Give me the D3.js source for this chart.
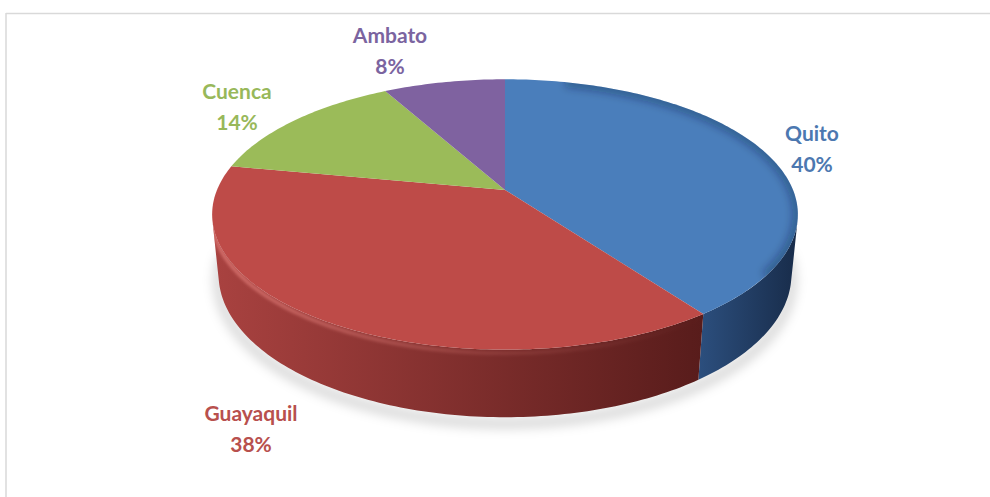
<!DOCTYPE html>
<html>
<head>
<meta charset="utf-8">
<script src="https://cdn.jsdelivr.net/npm/d3@7"></script>
<style>
  html, body { margin: 0; padding: 0; background: #fff; }
  svg { display: block; }
  text { font-family: Lato, "Open Sans", sans-serif; font-weight: 700; }
</style>
</head>
<body>
<svg id="chart" width="990" height="497"></svg>
<script>
// City shares (percent)
const cities = ["Quito", "Guayaquil", "Cuenca", "Ambato"];
const shares = [40, 38, 14, 8];

// Office palette: top face, wall and label colours
const topColors   = ["#4a7ebb", "#be4b48", "#9bbb59", "#7f62a0"];
const wallLight   = ["#2c4f7e", "#a94240", "#7d9843", "#5f4a7c"];
const wallDark    = ["#182c4a", "#581c1b", "#4d5e27", "#3b2d4e"];
const labelColors = ["#4c78b0", "#b8504d", "#98b85a", "#7b64a0"];

// Where each label sits (centre x, baseline of the first line)
const labelPos = {
  Quito:     [812, 141],
  Guayaquil: [251, 421],
  Cuenca:    [237, 99],
  Ambato:    [390, 43]
};

const svg = d3.select("#chart");
const defs = svg.append("defs");

// Chart area border
svg.append("line").attr("x1", 6).attr("x2", 990).attr("y1", 13.5).attr("y2", 13.5)
  .attr("stroke", "#d9d9d9").attr("stroke-width", 1.5);
svg.append("line").attr("x1", 6).attr("x2", 6).attr("y1", 13).attr("y2", 497)
  .attr("stroke", "#d9d9d9").attr("stroke-width", 1.5);

// ---- perspective projection of a tilted disc ----
const cx = 505, cy = 190;     // screen position of the disc centre
const focal = 1420;           // focal length (px per unit radius at unit depth)
const dist = 4.93;            // camera distance (in radii)
const tilt = 27 * Math.PI / 180;
const sinT = Math.sin(tilt), cosT = Math.cos(tilt);
const thick = 0.235;          // disc thickness (in radii)

// theta: clockwise from the back (screen top); y: 0 top face, -thick bottom
function project(theta, y, r = 1) {
  const X = r * Math.sin(theta), Z = r * Math.cos(theta);
  const v = y * cosT + Z * sinT;
  const w = dist + Z * cosT - y * sinT;
  return [cx + focal * X / w, cy - focal * v / w];
}

// visible arc of the outer wall: where the wall faces the camera
const camZ = dist * cosT;
const visLim = Math.acos(-1 / camZ);            // ~103 deg
const visA0 = visLim, visA1 = 2 * Math.PI - visLim;

const pie = d3.pie().sort(null).value(d => d)
  .startAngle(0).endAngle(2 * Math.PI);
const arcs = pie(shares);

const line = d3.line();
const steps = a => Math.max(8, Math.ceil(Math.abs(a) / (Math.PI / 180)));

function rimPoints(a0, a1, y) {
  const n = steps(a1 - a0), pts = [];
  for (let i = 0; i <= n; i++) pts.push(project(a0 + (a1 - a0) * i / n, y));
  return pts;
}

// soft drop shadow under the disc
const blur = defs.append("filter").attr("id", "shadowBlur")
  .attr("x", "-20%").attr("y", "-50%").attr("width", "140%").attr("height", "200%");
blur.append("feGaussianBlur").attr("stdDeviation", 6);

const shadowPts = rimPoints(visA0 - 0.2, visA1 + 0.2, -thick);
svg.append("path")
  .attr("d", line(shadowPts.map(p => [p[0], p[1] + 6])) + "Z")
  .attr("fill", "none").attr("stroke", "#000").attr("stroke-opacity", 0.2)
  .attr("stroke-width", 8).attr("filter", "url(#shadowBlur)");

const softBlur = defs.append("filter").attr("id", "softBlur")
  .attr("x", "-10%").attr("y", "-50%").attr("width", "120%").attr("height", "200%");
softBlur.append("feGaussianBlur").attr("stdDeviation", 1.6);

// walls
arcs.forEach((a, i) => {
  const a0 = Math.max(a.startAngle, visA0), a1 = Math.min(a.endAngle, visA1);
  if (a1 <= a0) return;
  const topPts = rimPoints(a0, a1, 0);
  const botPts = rimPoints(a0, a1, -thick).reverse();
  const xs = topPts.map(p => p[0]).concat(botPts.map(p => p[0]));
  const wallPath = line(topPts.concat(botPts)) + "Z";
  const gid = "wall" + i;
  const g = defs.append("linearGradient").attr("id", gid)
    .attr("gradientUnits", "userSpaceOnUse")
    .attr("x1", d3.min(xs)).attr("x2", d3.max(xs)).attr("y1", 0).attr("y2", 0);
  g.append("stop").attr("offset", 0).attr("stop-color", wallLight[i]);
  g.append("stop").attr("offset", 1).attr("stop-color", wallDark[i]);
  svg.append("path").attr("d", wallPath).attr("fill", `url(#${gid})`);

  // bevel highlight along the upper edge of the wall
  const cid = "wallClip" + i;
  defs.append("clipPath").attr("id", cid).append("path").attr("d", wallPath);
  const hid = "hl" + i;
  const hg = defs.append("linearGradient").attr("id", hid)
    .attr("gradientUnits", "userSpaceOnUse")
    .attr("x1", d3.min(xs)).attr("x2", d3.max(xs)).attr("y1", 0).attr("y2", 0);
  hg.append("stop").attr("offset", 0).attr("stop-color", "#ff9a94").attr("stop-opacity", 0.5);
  hg.append("stop").attr("offset", 0.55).attr("stop-color", "#ff9a94").attr("stop-opacity", 0.15);
  hg.append("stop").attr("offset", 1).attr("stop-color", "#ff9a94").attr("stop-opacity", 0);
  svg.append("g").attr("clip-path", `url(#${cid})`)
    .append("path")
    .attr("d", line(rimPoints(a0, a1, -0.012)))
    .attr("fill", "none").attr("stroke", i === 0 ? "none" : `url(#${hid})`)
    .attr("stroke-width", 4).attr("filter", "url(#softBlur)");
});

// top faces
arcs.forEach((a, i) => {
  const pts = [project(0, 0, 0)].concat(rimPoints(a.startAngle, a.endAngle, 0));
  svg.append("path")
    .attr("d", line(pts) + "Z")
    .attr("fill", topColors[i]);
});

// darkening along the right-hand rim of the top face
const topClip = defs.append("clipPath").attr("id", "topClip");
topClip.append("path").attr("d", line(rimPoints(0, 2 * Math.PI, 0)) + "Z");
const edgeBlur = defs.append("filter").attr("id", "edgeBlur");
edgeBlur.append("feGaussianBlur").attr("stdDeviation", 4);
svg.append("g").attr("clip-path", "url(#topClip)")
  .append("path")
  .attr("d", line(rimPoints(0.25, 2.2, 0)))
  .attr("fill", "none").attr("stroke", "#0b1f3a").attr("stroke-opacity", 0.35)
  .attr("stroke-width", 10).attr("filter", "url(#edgeBlur)");

// labels
arcs.forEach((a, i) => {
  const name = cities[i];
  const [lx, ly] = labelPos[name];
  const t = svg.append("text")
    .attr("text-anchor", "middle")
    .attr("fill", labelColors[i])
    .attr("font-size", 21);
  t.append("tspan").attr("x", lx).attr("y", ly).text(name);
  t.append("tspan").attr("x", lx).attr("y", ly + 31).text(d3.format(".0%")(a.value / 100));
});
</script>
</body>
</html>
